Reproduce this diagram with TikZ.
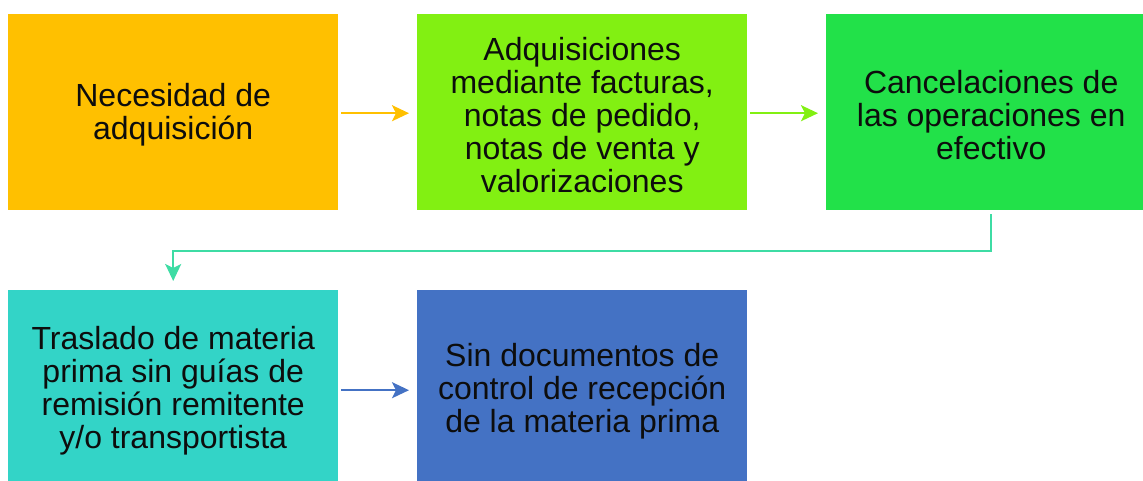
\documentclass[tikz,border=0pt]{standalone}
\usepackage{fontspec}
\setmainfont{Liberation Sans}
\usetikzlibrary{arrows.meta}
\definecolor{cA}{HTML}{FFC000}
\definecolor{cB}{HTML}{82F012}
\definecolor{cC}{HTML}{22E149}
\definecolor{cD}{HTML}{33D4C7}
\definecolor{cE}{HTML}{4472C4}
\definecolor{cL}{HTML}{3EDCA4}
\begin{document}
\begin{tikzpicture}[x=1pt,y=-1pt,
  box/.style={minimum width=330pt, minimum height=196pt, inner sep=0pt, anchor=north west},
  lbl/.style={align=center, inner sep=0pt, yshift=-3pt,
    font=\fontsize{32}{33}\selectfont, text=black!95},
  conn/.style={line width=2pt, -{Stealth[length=17pt,width=16pt,inset=4pt]}}]
\useasboundingbox (0,0) rectangle (1143,480);
\clip (0,0) rectangle (1143,480);
\node[box, fill=cA, label={[lbl]center:{Necesidad de\\adquisición}}] (n1) at (8,14) {};
\node[box, fill=cB, label={[lbl]center:{Adquisiciones\\mediante facturas,\\notas de pedido,\\notas de venta y\\valorizaciones}}] (n2) at (417,14) {};
\node[box, fill=cC, label={[lbl]center:{Cancelaciones de\\las operaciones en\\efectivo}}] (n3) at (826,14) {};
\node[box, fill=cD, label={[lbl]center:{Traslado de materia\\prima sin guías de\\remisión remitente\\y/o transportista}}] (n4) at (8,290) {};
\node[box, fill=cE, label={[lbl]center:{Sin documentos de\\control de recepción\\de la materia prima}}] (n5) at (417,290) {};
\draw[conn, cA] ([xshift=3pt,yshift=-1pt]n1.east) -- ([xshift=-8pt,yshift=-1pt]n2.west);
\draw[conn, cB] ([xshift=3pt,yshift=-1pt]n2.east) -- ([xshift=-8pt,yshift=-1pt]n3.west);
\draw[conn, cE] ([xshift=3pt,yshift=-2pt]n4.east) -- ([xshift=-8pt,yshift=-2pt]n5.west);
\draw[conn, cL] ([yshift=-4pt]n3.south) -- ++(0,37) -| ([yshift=9pt]n4.north);
\end{tikzpicture}
\end{document}
